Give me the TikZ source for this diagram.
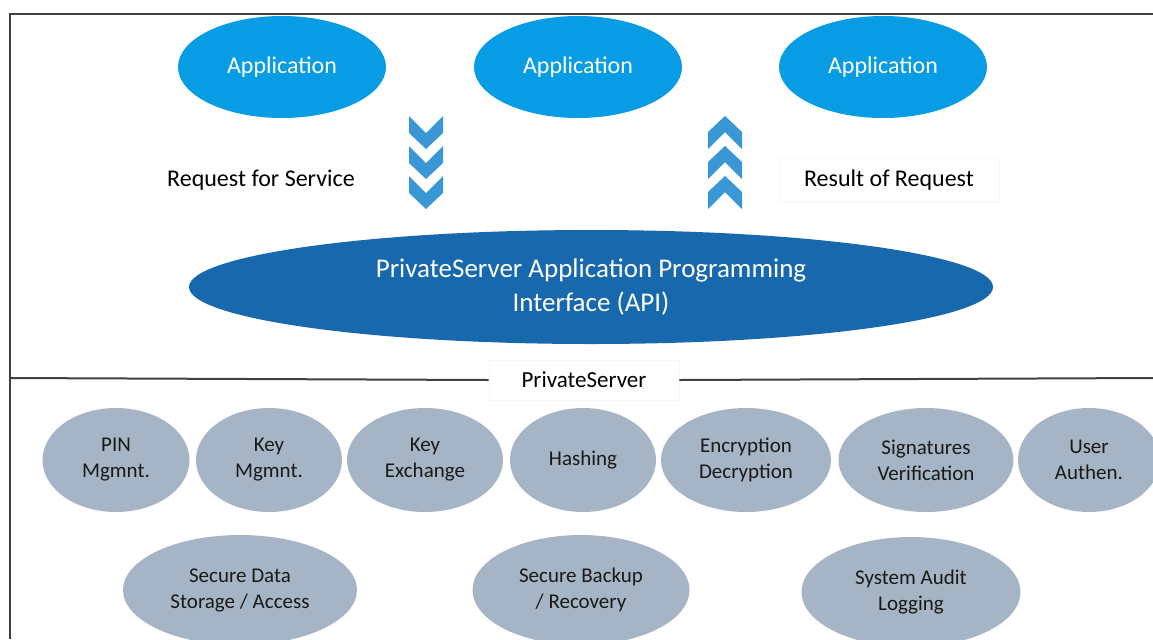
\documentclass[tikz,border=0pt]{standalone}
\usepackage{fontspec}
\setmainfont{Carlito}
\usetikzlibrary{shapes.geometric, positioning}

\definecolor{appblue}{RGB}{8,156,228}
\definecolor{chevblue}{RGB}{58,151,214}
\definecolor{apiblue}{RGB}{24,104,174}
\definecolor{bubblegray}{RGB}{166,181,197}

\begin{document}
\begin{tikzpicture}[x=0.5pt, y=-0.5pt]
	\tikzstyle{App} = [ellipse, minimum width=104pt, minimum height=51pt, inner sep=0pt, fill=appblue, text=white, font=\fontsize{12}{14}\selectfont]
	\tikzstyle{Api} = [ellipse, minimum width=402pt, minimum height=57pt, inner sep=0pt, fill=apiblue, text=white, align=center, font=\fontsize{13.5}{17}\selectfont]
	\tikzstyle{Service} = [ellipse, minimum height=52pt, inner sep=0pt, fill=bubblegray, text=black!90, align=center, font=\fontsize{10.5}{13}\selectfont]
	\tikzstyle{Label} = [rectangle, draw=black!3, inner sep=0pt, text centered, font=\fontsize{12}{14}\selectfont]
	\tikzstyle{Chevron} = [fill=chevblue]
	\tikzstyle{rule} = [line width=1pt, black!75]

	\useasboundingbox (0,0) rectangle (1153,639);
	\draw [rule] (10,639) -- (10,14) -- (1153,14);

	% applications
	\node (app1) [App] at (282,67) {Application};
	\node (app2) [App] at (578,67) {Application};
	\node (app3) [App] at (883,67) {Application};

	% request / result
	\node (req) [font=\fontsize{12}{14}\selectfont] at (261,180) {Request for Service};
	\node (res) [Label, minimum width=110pt, minimum height=22pt] at (889,180) {Result of Request};

	\fill [Chevron] (409,116) -- (426,133) -- (443,116) -- (443,133) -- (426,149) -- (409,133) -- cycle;
	\fill [Chevron] (409,146) -- (426,163) -- (443,146) -- (443,163) -- (426,179) -- (409,163) -- cycle;
	\fill [Chevron] (409,176) -- (426,193) -- (443,176) -- (443,193) -- (426,209) -- (409,193) -- cycle;

	\fill [Chevron] (708,209) -- (725,192) -- (742,209) -- (742,192) -- (725,176) -- (708,192) -- cycle;
	\fill [Chevron] (708,179) -- (725,162) -- (742,179) -- (742,162) -- (725,146) -- (708,162) -- cycle;
	\fill [Chevron] (708,149) -- (725,132) -- (742,149) -- (742,132) -- (725,116) -- (708,132) -- cycle;

	% api
	\node (api) [Api] at (591,287) {PrivateServer Application Programming\\Interface (API)};

	% server
	\node (ps) [Label, minimum width=95pt, minimum height=20pt, font=\fontsize{11.5}{14}\selectfont] at (584,380) {PrivateServer};
	\draw [rule] (10,378) -- (ps.west);
	\draw [rule] (ps.east) -- (1153,378);

	\node (pin) [Service, minimum width=73.5pt] at (116,460) {PIN\\Mgmnt.};
	\node (key) [Service, minimum width=73pt] at (269,460) {Key\\Mgmnt.};
	\node (kex) [Service, minimum width=78pt] at (425,460) {Key\\Exchange};
	\node (hash) [Service, minimum width=73pt] at (583,460) {Hashing};
	\node (enc) [Service, minimum width=85pt] at (746,460) {Encryption\\Decryption};
	\node (sig) [Service, minimum width=87.5pt] at (926,460) {Signatures\\Verification};
	\node (usr) [Service, minimum width=71pt] at (1089,460) {User\\Authen.};

	\node (sto) [Service, minimum width=117pt, minimum height=55pt] at (240,590) {Secure Data\\Storage / Access};
	\node (bak) [Service, minimum width=108.5pt, minimum height=55pt] at (581,590) {Secure Backup\\/ Recovery};
	\node (aud) [Service, minimum width=109.5pt, minimum height=55pt] at (911,592) {System Audit\\Logging};
\end{tikzpicture}
\end{document}
